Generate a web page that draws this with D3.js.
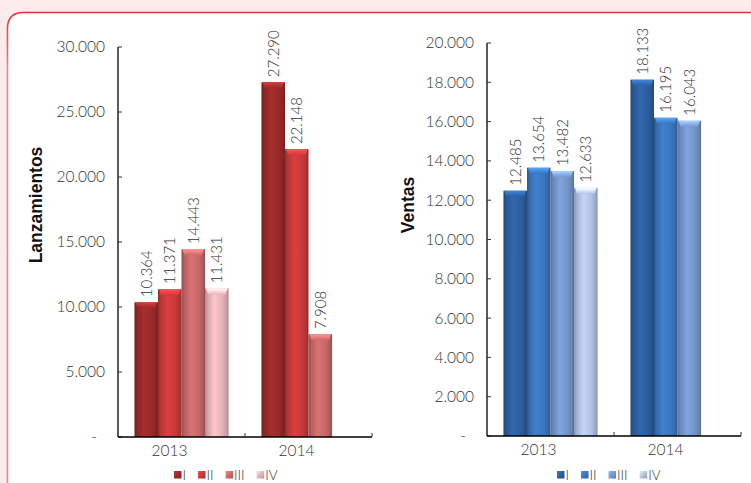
<!DOCTYPE html>
<html>
<head>
<meta charset="utf-8">
<script src="https://cdn.jsdelivr.net/npm/d3@7"></script>
<style>
  html, body { margin: 0; padding: 0; background: #fdeaea; }
  svg { display: block; }
  .tick-label { font-family: Lato, "Open Sans", sans-serif; font-weight: 300; font-size: 15.5px; fill: #333; }
  .val-label { font-family: Lato, "Open Sans", sans-serif; font-weight: 300; font-size: 15px; fill: #333; }
  .cat-label { font-family: Lato, "Open Sans", sans-serif; font-weight: 300; font-size: 15.5px; fill: #333; }
  .axis-title { font-family: "Liberation Sans", Arial, sans-serif; font-size: 17.5px; font-weight: bold; fill: #111; }
  .legend-text { font-family: Lato, "Open Sans", sans-serif; font-weight: 300; font-size: 13.5px; fill: #333; }
</style>
</head>
<body>
<svg id="chart" width="751" height="483"></svg>
<script>
// Quarterly figures per year
const categories = ["2013", "2014"];
const quarters = ["I", "II", "III", "IV"];
const lanzamientos = {
  I:   [10364, 27290],
  II:  [11371, 22148],
  III: [14443, 7908],
  IV:  [11431, null]
};
const ventas = {
  I:   [12485, 18133],
  II:  [13654, 16195],
  III: [13482, 16043],
  IV:  [12633, null]
};
const lanzTicks = [0, 5000, 10000, 15000, 20000, 25000, 30000];
const ventasTicks = [0, 2000, 4000, 6000, 8000, 10000, 12000, 14000, 16000, 18000, 20000];

const redColors  = ["#9a2a2a", "#c83a3b", "#c8686a", "#e8b4bb"];
const blueColors = ["#2d5f9f", "#3a76bd", "#7596cb", "#b3c2e4"];

const locale = d3.formatLocale({ decimal: ",", thousands: ".", grouping: [3], currency: ["", ""] });
const fmt = locale.format(",d");
const tickFmt = v => v === 0 ? "-" : fmt(v);

const svg = d3.select("#chart");
const defs = svg.append("defs");

// Card frame: pink page, white card with a rounded top-left corner
svg.append("rect").attr("width", 751).attr("height", 483).attr("fill", "#fdeaea");
const borderGrad = defs.append("linearGradient").attr("id", "borderGrad")
  .attr("gradientUnits", "userSpaceOnUse").attr("x1", 0).attr("y1", 12).attr("x2", 0).attr("y2", 70);
borderGrad.append("stop").attr("offset", 0).attr("stop-color", "#d8333b");
borderGrad.append("stop").attr("offset", 1).attr("stop-color", "#e48890");
const r = 16, cx = 7.5, cy = 12.5;
svg.append("path")
  .attr("d", `M${cx},500 L${cx},${cy + r} Q${cx},${cy} ${cx + r},${cy} L770,${cy} L770,500 Z`)
  .attr("fill", "#ffffff")
  .attr("stroke", "url(#borderGrad)")
  .attr("stroke-width", 1.6);

// Gradients for the cylindrical bars
function makeGradients(colors, prefix) {
  colors.forEach((c, i) => {
    const base = d3.color(c);
    const g = defs.append("linearGradient").attr("id", `${prefix}${i}`)
      .attr("x1", 0).attr("y1", 0).attr("x2", 1).attr("y2", 0);
    [[0, base.darker(0.8)], [0.12, base.darker(0.25)], [0.4, base.brighter(0.25)],
     [0.72, base], [0.92, base.darker(0.4)], [1, base.darker(0.9)]]
      .forEach(([o, col]) => g.append("stop").attr("offset", o).attr("stop-color", col.formatHex()));
    const cap = defs.append("linearGradient").attr("id", `${prefix}cap${i}`)
      .attr("x1", 0).attr("y1", 0).attr("x2", 0).attr("y2", 1);
    cap.append("stop").attr("offset", 0).attr("stop-color", base.brighter(1.0).formatHex());
    cap.append("stop").attr("offset", 0.5).attr("stop-color", base.brighter(0.5).formatHex());
    cap.append("stop").attr("offset", 1).attr("stop-color", base.formatHex());
    const sw = defs.append("linearGradient").attr("id", `${prefix}sw${i}`)
      .attr("x1", 0).attr("y1", 0).attr("x2", 1).attr("y2", 1);
    sw.append("stop").attr("offset", 0).attr("stop-color", base.brighter(0.6).formatHex());
    sw.append("stop").attr("offset", 1).attr("stop-color", base.darker(0.6).formatHex());
  });
}
makeGradients(redColors, "rg");
makeGradients(blueColors, "bg");

function drawChart(opt) {
  const g = svg.append("g");
  const y = d3.scaleLinear().domain(opt.domain).range([opt.y0, opt.y1]);
  const x0 = d3.scaleBand().domain(categories).range([opt.xL, opt.xR]);
  const x1 = d3.scaleBand().domain(quarters).range([0, x0.bandwidth()]).paddingOuter(0.7);

  // y axis line and ticks
  g.append("line").attr("x1", opt.xL).attr("x2", opt.xL).attr("y1", y(opt.domain[1])).attr("y2", y(0))
    .attr("stroke", "#000").attr("stroke-width", 1.3);
  opt.ticks.forEach(t => {
    g.append("line").attr("x1", opt.xL).attr("x2", opt.xL + 4).attr("y1", y(t)).attr("y2", y(t))
      .attr("stroke", "#333").attr("stroke-width", 1);
    g.append("text").attr("class", "tick-label")
      .attr("x", t === 0 ? opt.xL - 21 : opt.xL - 13).attr("y", y(t))
      .attr("dy", "0.35em").attr("text-anchor", "end").text(tickFmt(t));
  });

  // bars
  quarters.forEach((q, qi) => {
    categories.forEach((c, ci) => {
      const v = opt.data[q][ci];
      if (v == null) return;
      const bx = x0(c) + x1(q), bw = x1.bandwidth();
      const top = y(v), h = y(0) - top;
      const bg = g.append("g");
      bg.append("rect").attr("x", bx).attr("y", top).attr("width", bw).attr("height", h)
        .attr("fill", `url(#${opt.prefix}${qi})`);
      bg.append("path")
        .attr("d", `M${bx + 1},${top} L${bx + bw - 1},${top} L${bx + bw - 3},${top + 6} L${bx + 3},${top + 6} Z`)
        .attr("fill", `url(#${opt.prefix}cap${qi})`);
      g.append("text").attr("class", "val-label")
        .attr("transform", `translate(${bx + bw / 2},${top - 5}) rotate(-90)`)
        .attr("dy", "0.36em").attr("text-anchor", "start").text(fmt(v));
    });
  });

  // x axis line with category separators
  g.append("line").attr("x1", opt.xL).attr("x2", opt.xR).attr("y1", y(0)).attr("y2", y(0))
    .attr("stroke", "#000").attr("stroke-width", 1.3);
  categories.forEach(c => {
    const xe = x0(c) + x0.bandwidth();
    g.append("line").attr("x1", xe).attr("x2", xe).attr("y1", y(0)).attr("y2", y(0) - 4)
      .attr("stroke", "#333").attr("stroke-width", 1);
    g.append("text").attr("class", "cat-label")
      .attr("x", x0(c) + x0.bandwidth() / 2 - 12).attr("y", y(0) + 19)
      .attr("text-anchor", "middle").text(c);
  });

  // axis title
  g.append("text").attr("class", "axis-title")
    .attr("transform", `translate(${opt.titleX},${opt.titleY}) rotate(-90)`)
    .attr("text-anchor", "middle").text(opt.title);

  // legend
  let lx = opt.legendX;
  const ly = 475;
  quarters.forEach((q, qi) => {
    g.append("rect").attr("x", lx).attr("y", ly - 4).attr("width", 7.5).attr("height", 7.5)
      .attr("fill", `url(#${opt.prefix}sw${qi})`);
    const t = g.append("text").attr("class", "legend-text")
      .attr("x", lx + 8.5).attr("y", ly).attr("dy", "0.36em").text(q);
    lx += 8.5 + t.node().getComputedTextLength() + 12;
  });
}

drawChart({
  data: lanzamientos, domain: [0, 30000], ticks: lanzTicks,
  y0: 437, y1: 47, xL: 118, xR: 372, prefix: "rg",
  title: "Lanzamientos", titleX: 42, titleY: 205, legendX: 174
});
drawChart({
  data: ventas, domain: [0, 20000], ticks: ventasTicks,
  y0: 436, y1: 43, xL: 487, xR: 741, prefix: "bg",
  title: "Ventas", titleX: 414, titleY: 205, legendX: 557
});
</script>
</body>
</html>
